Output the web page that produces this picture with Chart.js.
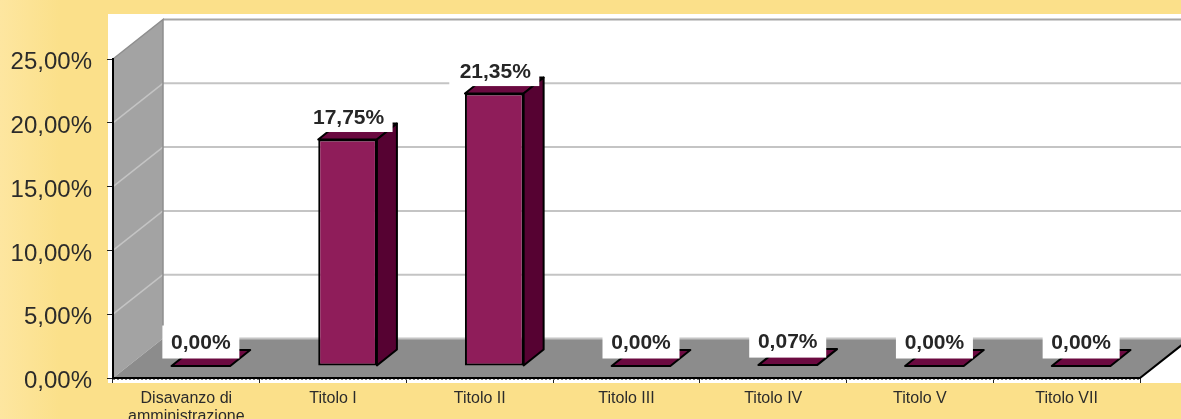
<!DOCTYPE html>
<html><head><meta charset="utf-8">
<style>html,body{margin:0;padding:0;background:#FBE08A}
#wrap{position:relative;width:1181px;height:419px;overflow:hidden;background:linear-gradient(90deg,#FDE6A0 0,#FBE08A 60px)}
canvas{display:block}</style>
<script src="https://cdn.jsdelivr.net/npm/chart.js@4"></script>
</head><body><div id="wrap"><canvas id="c" width="1181" height="419"></canvas></div>
<script>
const categories=[["Disavanzo di","amministrazione"],"Titolo I","Titolo II","Titolo III","Titolo IV","Titolo V","Titolo VII"];
const values=[0,17.75,21.35,0,0.07,0,0];
const yTicks=[0,5,10,15,20,25];
const fmt=v=>v.toFixed(2).replace('.',',')+'%';

const wallDX=50, wallDY=39.5, barDX=20, barDY=16, shiftX=14.5, shiftY=12;

const scene={id:'scene',
 beforeDraw(ch){
  const c=ch.ctx;c.save();c.fillStyle='#fff';c.fillRect(108,14,1181-108,383-14);c.restore();
 },
 beforeDatasetsDraw(ch){
  const c=ch.ctx,y=ch.scales.y,a=ch.chartArea,L=a.left,R=a.right,B=a.bottom,T=a.top;
  c.save();
  c.fillStyle='#A3A3A3';c.beginPath();c.moveTo(L,T);c.lineTo(L+wallDX,T-wallDY);c.lineTo(L+wallDX,B-wallDY);c.lineTo(L,B);c.closePath();c.fill();
  c.fillStyle='#8C8C8C';c.beginPath();c.moveTo(L,B);c.lineTo(L+wallDX,B-wallDY);c.lineTo(R+wallDX,B-wallDY);c.lineTo(R,B);c.closePath();c.fill();
  yTicks.forEach(v=>{const p=y.getPixelForValue(v);
    c.strokeStyle=v===25?'#A6A6A6':'#C4C4C4';c.lineWidth=2;
    c.beginPath();c.moveTo(L+wallDX,p-wallDY);c.lineTo(R+wallDX,p-wallDY);c.stroke();
    if(v>0&&v<25){c.strokeStyle='#C4C4C4';c.lineWidth=1.5;c.beginPath();c.moveTo(L,p);c.lineTo(L+wallDX,p-wallDY);c.stroke();}
  });
  c.strokeStyle='#8E8E8E';c.lineWidth=1.5;
  c.beginPath();c.moveTo(L,T);c.lineTo(L+wallDX,T-wallDY);c.lineTo(L+wallDX,B-wallDY);c.stroke();
  c.strokeStyle='#000';c.lineWidth=2;
  c.beginPath();c.moveTo(L,T-1);c.lineTo(L,B);c.lineTo(R,B);c.lineTo(R+wallDX,B-wallDY);c.stroke();
  c.strokeStyle='#777';c.lineWidth=1;c.setLineDash([2,2]);
  c.beginPath();c.moveTo(L,B+1.5);c.lineTo(R,B+1.5);c.stroke();
  c.restore();
 },
 beforeDatasetDraw(ch,args){
  const c=ch.ctx;c.save();c.translate(shiftX,-shiftY);
  ch.getDatasetMeta(args.index).data.forEach(b=>{
    const l=b.x-b.width/2,r=b.x+b.width/2;
    c.lineWidth=2;c.strokeStyle='#000';c.lineJoin='round';
    c.fillStyle='#6B0A40';c.beginPath();c.moveTo(l,b.y);c.lineTo(l+barDX,b.y-barDY);c.lineTo(r+barDX,b.y-barDY);c.lineTo(r,b.y);c.closePath();c.fill();c.stroke();
    if(b.base-b.y>0.5){c.fillStyle='#560232';c.beginPath();c.moveTo(r,b.y);c.lineTo(r+barDX,b.y-barDY);c.lineTo(r+barDX,b.base-barDY);c.lineTo(r,b.base);c.closePath();c.fill();c.stroke();}
  });
 },
 afterDatasetDraw(ch,args){
  const c=ch.ctx;c.restore();c.save();
  ch.getDatasetMeta(args.index).data.forEach((b,i)=>{
    const cx=b.x+shiftX,ty=b.y-shiftY,w=values[i]>1?90:77;
    c.fillStyle='#fff';c.fillRect(cx-w/2,ty-40.5,w,33);
    c.fillStyle='#262626';c.font='bold 21px "Liberation Sans"';c.textAlign='center';c.textBaseline='middle';
    c.fillText(fmt(values[i]),cx+(values[i]>1?1:0),ty-(values[i]>1?21.5:22.5));
  });
  c.restore();
 }
};

new Chart(document.getElementById('c'),{
 type:'bar',
 data:{labels:categories,datasets:[{data:values,backgroundColor:'#8F1D5A',borderColor:'#000',borderWidth:2,borderSkipped:false,barPercentage:0.5,categoryPercentage:0.8}]},
 options:{responsive:false,animation:false,
  layout:{padding:{top:59,right:41,left:0,bottom:0}},
  plugins:{legend:{display:false},tooltip:{enabled:false}},
  scales:{
   y:{min:0,max:25,afterFit(s){s.width=113},
      afterBuildTicks(s){s.ticks=yTicks.map(v=>({value:v}))},
      border:{display:false},
      grid:{drawOnChartArea:false,tickLength:6,tickColor:'#222',tickWidth:1},
      ticks:{callback:v=>fmt(v),color:'#2b2b2b',font:{family:'"Liberation Sans"',size:24},padding:15,labelOffset:3.5}},
   x:{afterFit(s){s.height=41},
      border:{display:false},
      grid:{drawOnChartArea:false,tickLength:5,tickColor:'#222',tickWidth:1},
      ticks:{color:'#2b2b2b',font:{family:'"Liberation Sans"',size:16,lineHeight:1.1},padding:7,maxRotation:0,autoSkip:false}}
  }},
 plugins:[scene]
});
</script></body></html>
